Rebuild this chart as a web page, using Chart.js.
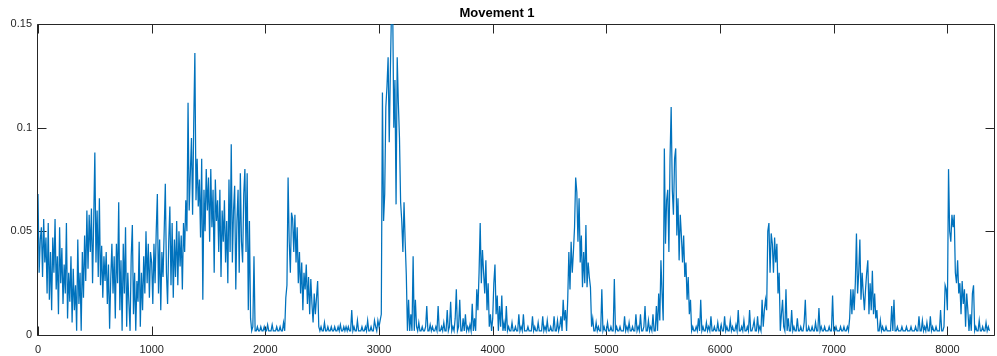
<!DOCTYPE html>
<html>
<head>
<meta charset="utf-8">
<script src="https://cdn.jsdelivr.net/npm/chart.js@4.4.1/dist/chart.umd.min.js"></script>
<style>
  html, body { margin: 0; padding: 0; background: #ffffff; }
</style>
</head>
<body>
<canvas id="Chart" width="997" height="356"></canvas>
<script>
/* values, one every 10 samples, one row per 100 samples */
const sampleStep = 10;

const m1_0k = [0.068, 0.030, 0.046, 0.052, 0.028, 0.056, 0.035, 0.047, 0.020, 0.054,
               0.017, 0.040, 0.012, 0.047, 0.030, 0.056, 0.022, 0.038, 0.010, 0.052,
               0.025, 0.042, 0.015, 0.034, 0.020, 0.054, 0.008, 0.030, 0.016, 0.038,
               0.006, 0.032, 0.012, 0.024, 0.002, 0.046, 0.015, 0.030, 0.002, 0.040,
               0.018, 0.048, 0.026, 0.060, 0.032, 0.058, 0.040, 0.061, 0.025, 0.055,
               0.088, 0.035, 0.060, 0.028, 0.066, 0.024, 0.043, 0.018, 0.038, 0.026,
               0.040, 0.015, 0.034, 0.003, 0.027, 0.044, 0.020, 0.038, 0.008, 0.044,
               0.025, 0.064, 0.012, 0.036, 0.002, 0.044, 0.020, 0.052, 0.004, 0.030,
               0.015, 0.002, 0.038, 0.053, 0.010, 0.030, 0.002, 0.026, 0.016, 0.045,
               0.004, 0.030, 0.012, 0.038, 0.020, 0.050, 0.025, 0.044, 0.018, 0.040];
const m1_1k = [0.035, 0.015, 0.044, 0.025, 0.050, 0.068, 0.020, 0.046, 0.012, 0.040,
               0.028, 0.050, 0.073, 0.030, 0.015, 0.045, 0.062, 0.024, 0.054, 0.018,
               0.046, 0.028, 0.055, 0.024, 0.050, 0.033, 0.048, 0.022, 0.054, 0.040,
               0.065, 0.050, 0.112, 0.060, 0.078, 0.095, 0.058, 0.102, 0.136, 0.065,
               0.085, 0.062, 0.075, 0.047, 0.085, 0.017, 0.070, 0.050, 0.080, 0.060,
               0.076, 0.045, 0.080, 0.052, 0.070, 0.030, 0.075, 0.055, 0.065, 0.040,
               0.070, 0.028, 0.060, 0.045, 0.065, 0.035, 0.055, 0.025, 0.075, 0.040,
               0.092, 0.035, 0.060, 0.072, 0.022, 0.055, 0.070, 0.030, 0.078, 0.045,
               0.035, 0.068, 0.080, 0.040, 0.078, 0.012, 0.055, 0.008, 0.002, 0.004,
               0.038, 0.002, 0.002, 0.004, 0.002, 0.002, 0.004, 0.002, 0.002, 0.004];
const m1_2k = [0.002, 0.002, 0.005, 0.002, 0.002, 0.002, 0.005, 0.002, 0.002, 0.002,
               0.004, 0.002, 0.002, 0.004, 0.002, 0.002, 0.006, 0.002, 0.018, 0.024,
               0.076, 0.045, 0.030, 0.059, 0.056, 0.040, 0.058, 0.035, 0.052, 0.025,
               0.040, 0.020, 0.035, 0.012, 0.030, 0.022, 0.034, 0.015, 0.028, 0.010,
               0.027, 0.015, 0.006, 0.020, 0.010, 0.018, 0.026, 0.004, 0.002, 0.004,
               0.002, 0.002, 0.006, 0.002, 0.002, 0.004, 0.002, 0.002, 0.004, 0.002,
               0.002, 0.004, 0.002, 0.002, 0.004, 0.002, 0.005, 0.002, 0.002, 0.004,
               0.002, 0.004, 0.002, 0.004, 0.002, 0.002, 0.012, 0.002, 0.004, 0.002,
               0.002, 0.007, 0.002, 0.002, 0.002, 0.004, 0.002, 0.002, 0.004, 0.002,
               0.007, 0.002, 0.002, 0.004, 0.002, 0.002, 0.007, 0.004, 0.002, 0.007];
const m1_3k = [0.004, 0.007, 0.010, 0.117, 0.055, 0.068, 0.110, 0.120, 0.134, 0.093,
               0.128, 0.158, 0.160, 0.100, 0.123, 0.063, 0.134, 0.112, 0.095, 0.064,
               0.055, 0.040, 0.064, 0.045, 0.029, 0.002, 0.017, 0.002, 0.010, 0.002,
               0.038, 0.002, 0.017, 0.004, 0.002, 0.006, 0.002, 0.002, 0.004, 0.002,
               0.002, 0.004, 0.014, 0.002, 0.002, 0.005, 0.002, 0.004, 0.002, 0.002,
               0.004, 0.002, 0.014, 0.002, 0.002, 0.004, 0.002, 0.006, 0.002, 0.002,
               0.012, 0.002, 0.004, 0.016, 0.002, 0.004, 0.002, 0.008, 0.022, 0.002,
               0.004, 0.017, 0.002, 0.002, 0.008, 0.002, 0.010, 0.002, 0.004, 0.002,
               0.005, 0.002, 0.015, 0.002, 0.008, 0.002, 0.022, 0.012, 0.030, 0.054,
               0.025, 0.041, 0.030, 0.020, 0.036, 0.012, 0.025, 0.004, 0.010, 0.002];
const m1_4k = [0.008, 0.025, 0.034, 0.010, 0.019, 0.002, 0.014, 0.004, 0.019, 0.002,
               0.006, 0.002, 0.014, 0.002, 0.004, 0.002, 0.002, 0.006, 0.002, 0.002,
               0.004, 0.002, 0.002, 0.010, 0.002, 0.004, 0.002, 0.010, 0.002, 0.002,
               0.002, 0.004, 0.002, 0.002, 0.002, 0.009, 0.002, 0.004, 0.002, 0.002,
               0.006, 0.002, 0.002, 0.002, 0.009, 0.002, 0.004, 0.002, 0.007, 0.002,
               0.002, 0.004, 0.002, 0.002, 0.009, 0.002, 0.002, 0.007, 0.002, 0.004,
               0.009, 0.002, 0.017, 0.007, 0.012, 0.002, 0.017, 0.040, 0.022, 0.045,
               0.030, 0.040, 0.052, 0.076, 0.069, 0.045, 0.066, 0.035, 0.048, 0.023,
               0.040, 0.025, 0.053, 0.023, 0.035, 0.028, 0.023, 0.004, 0.008, 0.002,
               0.002, 0.006, 0.002, 0.004, 0.002, 0.002, 0.022, 0.002, 0.004, 0.002];
const m1_5k = [0.002, 0.006, 0.002, 0.002, 0.004, 0.002, 0.002, 0.027, 0.002, 0.004,
               0.002, 0.002, 0.004, 0.002, 0.002, 0.002, 0.009, 0.002, 0.004, 0.002,
               0.006, 0.002, 0.002, 0.004, 0.002, 0.002, 0.010, 0.002, 0.004, 0.002,
               0.010, 0.002, 0.002, 0.004, 0.014, 0.002, 0.002, 0.007, 0.002, 0.004,
               0.002, 0.010, 0.002, 0.002, 0.014, 0.002, 0.020, 0.007, 0.036, 0.020,
               0.007, 0.090, 0.044, 0.065, 0.070, 0.040, 0.085, 0.110, 0.070, 0.058,
               0.085, 0.090, 0.048, 0.066, 0.036, 0.058, 0.048, 0.035, 0.048, 0.028,
               0.035, 0.017, 0.028, 0.010, 0.017, 0.002, 0.004, 0.002, 0.002, 0.004,
               0.002, 0.008, 0.002, 0.017, 0.002, 0.004, 0.002, 0.002, 0.006, 0.002,
               0.004, 0.002, 0.009, 0.002, 0.002, 0.004, 0.002, 0.002, 0.006, 0.002];
const m1_6k = [0.002, 0.005, 0.002, 0.002, 0.009, 0.002, 0.004, 0.002, 0.002, 0.007,
               0.002, 0.004, 0.002, 0.002, 0.005, 0.002, 0.012, 0.002, 0.002, 0.004,
               0.002, 0.007, 0.002, 0.002, 0.004, 0.002, 0.012, 0.002, 0.002, 0.004,
               0.007, 0.002, 0.002, 0.009, 0.002, 0.004, 0.002, 0.017, 0.004, 0.012,
               0.017, 0.012, 0.050, 0.054, 0.030, 0.049, 0.044, 0.030, 0.047, 0.035,
               0.044, 0.020, 0.030, 0.002, 0.010, 0.017, 0.004, 0.002, 0.022, 0.002,
               0.008, 0.002, 0.002, 0.012, 0.002, 0.004, 0.002, 0.002, 0.008, 0.002,
               0.002, 0.004, 0.002, 0.002, 0.006, 0.017, 0.002, 0.002, 0.004, 0.002,
               0.002, 0.004, 0.002, 0.002, 0.006, 0.002, 0.002, 0.013, 0.002, 0.004,
               0.002, 0.002, 0.004, 0.002, 0.002, 0.002, 0.004, 0.002, 0.002, 0.019];
const m1_7k = [0.002, 0.002, 0.004, 0.002, 0.002, 0.002, 0.004, 0.002, 0.002, 0.004,
               0.002, 0.002, 0.004, 0.002, 0.008, 0.022, 0.010, 0.022, 0.012, 0.025,
               0.049, 0.020, 0.030, 0.046, 0.017, 0.030, 0.020, 0.012, 0.022, 0.030,
               0.036, 0.010, 0.025, 0.012, 0.031, 0.010, 0.020, 0.008, 0.012, 0.002,
               0.002, 0.007, 0.002, 0.004, 0.002, 0.002, 0.004, 0.002, 0.002, 0.002,
               0.002, 0.014, 0.002, 0.017, 0.002, 0.002, 0.004, 0.002, 0.002, 0.002,
               0.004, 0.002, 0.002, 0.002, 0.004, 0.002, 0.002, 0.002, 0.004, 0.002,
               0.002, 0.002, 0.004, 0.002, 0.002, 0.009, 0.002, 0.002, 0.007, 0.002,
               0.004, 0.002, 0.006, 0.002, 0.002, 0.009, 0.002, 0.004, 0.002, 0.002,
               0.004, 0.002, 0.002, 0.002, 0.012, 0.002, 0.002, 0.004, 0.024, 0.022];
const m1_8k = [0.012, 0.080, 0.050, 0.045, 0.058, 0.052, 0.058, 0.030, 0.025, 0.036,
               0.020, 0.025, 0.010, 0.026, 0.015, 0.022, 0.004, 0.020, 0.012, 0.002,
               0.010, 0.002, 0.020, 0.024, 0.002, 0.004, 0.002, 0.002, 0.007, 0.002,
               0.002, 0.004, 0.002, 0.002, 0.006, 0.002, 0.004, 0.002];

const xTicks = [0, 1000, 2000, 3000, 4000, 5000, 6000, 7000, 8000];
const yTicks = [0, 0.05, 0.1, 0.15];
const xMax = 8410;

const movement = [].concat(m1_0k, m1_1k, m1_2k, m1_3k, m1_4k, m1_5k, m1_6k, m1_7k, m1_8k);
const points = movement.map((v, i) => ({ x: i * sampleStep, y: v }));

const axisColor = '#262626';
const tickFont = { family: "'Liberation Sans', Arial, sans-serif", size: 11 };

/* matlab style box with ticks pointing inward */
const boxAxes = {
    id: 'boxAxes',
    beforeDatasetsDraw(chart) {
        const ctx = chart.ctx;
        const a = chart.chartArea;
        const xs = chart.scales.x, ys = chart.scales.y;
        const L = Math.round(a.left) - 0.5, R = Math.round(a.right) + 0.5;
        const T = Math.round(a.top) + 0.5, B = Math.round(a.bottom) + 0.5;
        const len = 9;
        ctx.save();
        ctx.strokeStyle = axisColor;
        ctx.lineWidth = 1;
        ctx.beginPath();
        ctx.rect(L, T, R - L, B - T);
        xs.ticks.forEach(t => {
            const px = Math.round(xs.getPixelForValue(t.value)) + 0.5;
            ctx.moveTo(px, B); ctx.lineTo(px, B - len);
            ctx.moveTo(px, T); ctx.lineTo(px, T + len);
        });
        ys.ticks.forEach(t => {
            const py = Math.round(ys.getPixelForValue(t.value)) + 0.5;
            ctx.moveTo(L, py); ctx.lineTo(L + len, py);
            ctx.moveTo(R, py); ctx.lineTo(R - len, py);
        });
        ctx.stroke();
        ctx.restore();
    }
};

const ctx = document.getElementById('Chart').getContext('2d');
const myChart = new Chart(ctx, {
    type: 'line',
    data: {
        datasets: [{
            data: points,
            borderColor: '#0072BD',
            borderWidth: 1.25,
            pointRadius: 0,
            tension: 0,
            fill: false
        }]
    },
    options: {
        responsive: false,
        animation: false,
        layout: { padding: { left: 0, right: 3, top: 0, bottom: 0 } },
        plugins: {
            legend: { display: false },
            tooltip: { enabled: false },
            title: {
                display: true,
                text: 'Movement 1',
                color: '#000000',
                font: { family: "'Liberation Sans', Arial, sans-serif", size: 13, weight: 'bold' },
                padding: { top: 6, bottom: 2.4 }
            }
        },
        scales: {
            x: {
                type: 'linear',
                min: 0,
                max: xMax,
                afterBuildTicks: s => { s.ticks = xTicks.map(v => ({ value: v })); },
                afterFit: s => { s.height = 21; },
                grid: { display: false, drawTicks: false },
                border: { display: false },
                ticks: {
                    padding: 8,
                    color: axisColor,
                    font: tickFont,
                    maxRotation: 0,
                    autoSkip: false,
                    callback: v => String(v)
                }
            },
            y: {
                type: 'linear',
                min: 0,
                max: 0.15,
                afterBuildTicks: s => { s.ticks = yTicks.map(v => ({ value: v })); },
                afterFit: s => { s.width = 38; },
                grid: { display: false, drawTicks: false },
                border: { display: false },
                ticks: {
                    padding: 6,
                    color: axisColor,
                    font: tickFont,
                    autoSkip: false,
                    callback: v => String(v)
                }
            }
        }
    },
    plugins: [boxAxes]
});
</script>
</body>
</html>
